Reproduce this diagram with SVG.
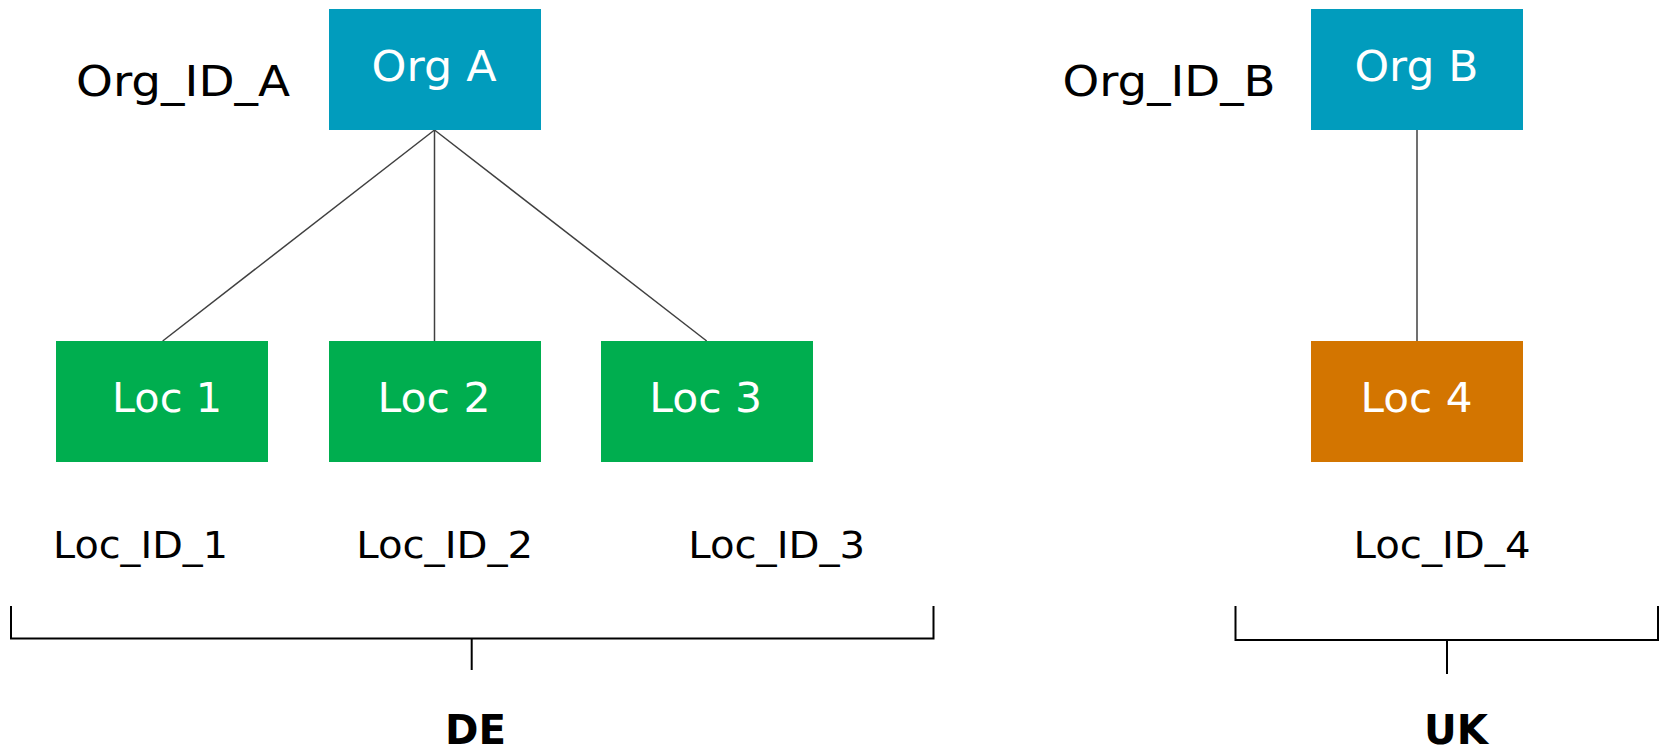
<svg xmlns="http://www.w3.org/2000/svg" width="1659" height="749" viewBox="0 0 1659 749">
  <style>
    .org { fill: #019CBD; }
    .locde { fill: #00AE4F; }
    .locuk { fill: #D37500; }
    .box-text { font-family: "DejaVu Sans", Verdana, sans-serif; fill: #ffffff; text-anchor: middle; }
    .label { font-family: "DejaVu Sans", Verdana, sans-serif; fill: #000000; text-anchor: middle; }
    .country { font-family: "DejaVu Sans", Verdana, sans-serif; font-weight: bold; font-size: 40px; fill: #000000; text-anchor: middle; }
    .conn { stroke: #404040; stroke-width: 1.5; fill: none; }
    .bracket { stroke: #000000; stroke-width: 2; fill: none; }
  </style>
  <rect width="1659" height="749" fill="#ffffff"/>

  <g id="connectors">
    <line class="conn" x1="434.5" y1="130" x2="162.7" y2="341"/>
    <line class="conn" x1="434.5" y1="130" x2="434.5" y2="341"/>
    <line class="conn" x1="434.5" y1="130" x2="706.7" y2="341"/>
    <line class="conn" x1="1417" y1="130" x2="1417" y2="341"/>
  </g>

  <g id="org-a">
    <rect class="org" x="329" y="9" width="212" height="121"/>
    <text class="box-text" x="434" y="81" font-size="42" textLength="125" lengthAdjust="spacingAndGlyphs">Org A</text>
  </g>
  <g id="org-id-a">
    <text class="label" x="183" y="96" font-size="43" textLength="214" lengthAdjust="spacingAndGlyphs">Org_ID_A</text>
  </g>

  <g id="org-b">
    <rect class="org" x="1311" y="9" width="212" height="121"/>
    <text class="box-text" x="1416.5" y="81" font-size="42" textLength="124" lengthAdjust="spacingAndGlyphs">Org B</text>
  </g>
  <g id="org-id-b">
    <text class="label" x="1169" y="96" font-size="43" textLength="213" lengthAdjust="spacingAndGlyphs">Org_ID_B</text>
  </g>

  <g id="loc-1">
    <rect class="locde" x="56" y="341" width="212" height="121"/>
    <text class="box-text" x="167" y="412" font-size="41" textLength="110" lengthAdjust="spacingAndGlyphs">Loc 1</text>
  </g>
  <g id="loc-2">
    <rect class="locde" x="329" y="341" width="212" height="121"/>
    <text class="box-text" x="434" y="412" font-size="41" textLength="113" lengthAdjust="spacingAndGlyphs">Loc 2</text>
  </g>
  <g id="loc-3">
    <rect class="locde" x="601" y="341" width="212" height="121"/>
    <text class="box-text" x="705.7" y="412" font-size="41" textLength="113" lengthAdjust="spacingAndGlyphs">Loc 3</text>
  </g>
  <g id="loc-4">
    <rect class="locuk" x="1311" y="341" width="212" height="121"/>
    <text class="box-text" x="1416.5" y="412" font-size="41" textLength="112" lengthAdjust="spacingAndGlyphs">Loc 4</text>
  </g>

  <g id="loc-id-1">
    <text class="label" x="140.5" y="558" font-size="37" textLength="175" lengthAdjust="spacingAndGlyphs">Loc_ID_1</text>
  </g>
  <g id="loc-id-2">
    <text class="label" x="444.7" y="558" font-size="37" textLength="177" lengthAdjust="spacingAndGlyphs">Loc_ID_2</text>
  </g>
  <g id="loc-id-3">
    <text class="label" x="776.7" y="558" font-size="37" textLength="177" lengthAdjust="spacingAndGlyphs">Loc_ID_3</text>
  </g>
  <g id="loc-id-4">
    <text class="label" x="1442" y="558" font-size="37" textLength="177" lengthAdjust="spacingAndGlyphs">Loc_ID_4</text>
  </g>

  <g id="group-de">
    <path class="bracket" d="M11 606 V638.5 H933.5 V606"/>
    <line class="bracket" x1="471.7" y1="638.5" x2="471.7" y2="670"/>
    <text class="country" x="475.5" y="744" textLength="61" lengthAdjust="spacingAndGlyphs">DE</text>
  </g>
  <g id="group-uk">
    <path class="bracket" d="M1235.5 606 V640 H1658 V606"/>
    <line class="bracket" x1="1447" y1="640" x2="1447" y2="674"/>
    <text class="country" x="1456" y="744" textLength="64" lengthAdjust="spacingAndGlyphs">UK</text>
  </g>
</svg>
